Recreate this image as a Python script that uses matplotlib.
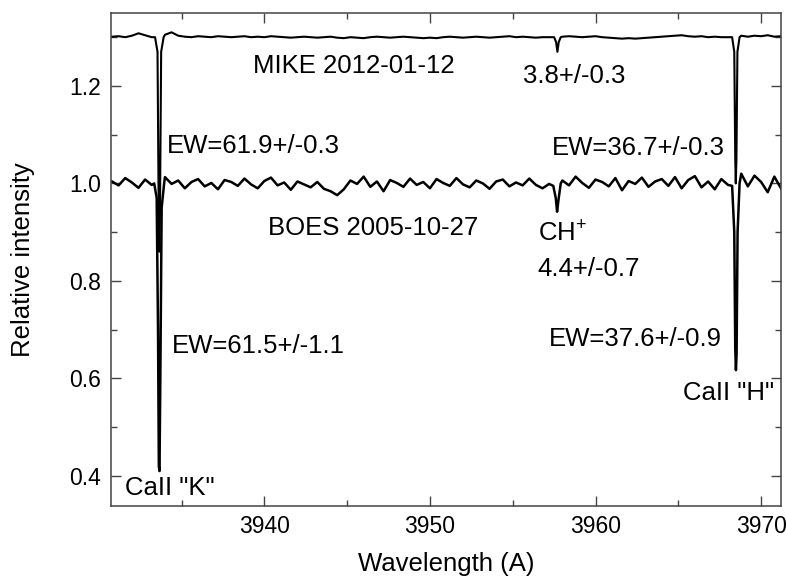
import numpy as np
import matplotlib.pyplot as plt
from matplotlib.ticker import MultipleLocator

plt.rcParams['font.family'] = ['Liberation Sans', 'DejaVu Sans']
plt.rcParams['mathtext.default'] = 'regular'

# BOES 2005-10-27 continuum, sampled every 0.4 A from 3930.8 A
boes_start = 3930.8
boes_step = 0.4
boes_cont = [1.004, 0.996, 1.011, 1.002, 0.991, 1.008, 0.997, 1.000, 1.013, 0.999,
             1.006, 0.990, 1.003, 1.009, 0.994, 1.001, 0.988, 1.007, 1.003, 0.995,
             1.010, 0.998, 0.990, 1.005, 1.012, 0.996, 1.002, 0.987, 1.004, 0.998,
             0.992, 1.003, 0.989, 0.984, 0.976, 0.988, 1.006, 0.999, 1.014, 0.993,
             1.004, 0.984, 1.007, 1.001, 0.993, 1.010, 0.997, 1.003, 0.990, 1.009,
             1.001, 0.995, 1.011, 0.998, 0.992, 1.006, 1.000, 0.989, 1.004, 1.008,
             0.994, 1.002, 0.996, 1.010, 0.997, 0.990, 0.999, 1.000, 1.006, 0.996,
             1.014, 1.001, 0.991, 1.008, 1.003, 0.994, 1.011, 0.986, 1.005, 0.999,
             1.012, 0.993, 1.004, 1.009, 0.995, 1.013, 0.990, 1.007, 1.015, 0.992,
             1.004, 0.988, 1.009, 0.997, 1.000, 1.020, 0.994, 1.016, 1.003, 0.982,
             1.014, 0.990]

# BOES absorption lines
boes_k_wl = [3933.35, 3933.5, 3933.58, 3933.63, 3933.67, 3933.72, 3933.8, 3933.95]
boes_k_fl = [1.0, 0.97, 0.70, 0.42, 0.41, 0.60, 0.95, 1.0]
boes_ch_wl = [3957.45, 3957.6, 3957.68, 3957.76, 3957.9]
boes_ch_fl = [0.995, 0.97, 0.942, 0.965, 1.0]
boes_h_wl = [3968.25, 3968.38, 3968.44, 3968.48, 3968.52, 3968.58, 3968.7]
boes_h_fl = [0.995, 0.90, 0.66, 0.617, 0.65, 0.90, 1.0]

# MIKE 2012-01-12 continuum (shifted by +0.3), same sampling
mike_cont = [1.301, 1.302, 1.300, 1.303, 1.308, 1.304, 1.300, 1.300, 1.305, 1.310,
             1.303, 1.301, 1.300, 1.302, 1.301, 1.300, 1.302, 1.301, 1.300, 1.301,
             1.302, 1.300, 1.301, 1.300, 1.302, 1.301, 1.300, 1.299, 1.300, 1.301,
             1.300, 1.299, 1.300, 1.301, 1.299, 1.298, 1.300, 1.299, 1.298, 1.300,
             1.301, 1.300, 1.299, 1.300, 1.301, 1.300, 1.299, 1.298, 1.299, 1.298,
             1.300, 1.301, 1.300, 1.299, 1.300, 1.301, 1.300, 1.299, 1.300, 1.301,
             1.302, 1.300, 1.301, 1.300, 1.299, 1.300, 1.300, 1.300, 1.301, 1.302,
             1.301, 1.300, 1.301, 1.302, 1.300, 1.299, 1.298, 1.297, 1.298, 1.297,
             1.298, 1.299, 1.300, 1.301, 1.302, 1.303, 1.304, 1.302, 1.301, 1.302,
             1.300, 1.301, 1.300, 1.300, 1.300, 1.303, 1.301, 1.303, 1.302, 1.304,
             1.301, 1.302]

mike_k_wl = [3933.4, 3933.55, 3933.62, 3933.66, 3933.70, 3933.77, 3933.92]
mike_k_fl = [1.30, 1.27, 0.95, 0.86, 0.95, 1.27, 1.30]
mike_ch_wl = [3957.5, 3957.62, 3957.7, 3957.78, 3957.9]
mike_ch_fl = [1.300, 1.29, 1.27, 1.29, 1.300]
mike_h_wl = [3968.25, 3968.38, 3968.44, 3968.47, 3968.51, 3968.57, 3968.7]
mike_h_fl = [1.30, 1.27, 1.05, 1.00, 1.05, 1.27, 1.30]


def build(cont, lines):
    wl = boes_start + boes_step * np.arange(len(cont))
    fl = np.array(cont)
    keep = np.ones(len(wl), bool)
    for lw, lf in lines:
        keep &= ~((wl >= lw[0]) & (wl <= lw[-1]))
    wl = list(wl[keep])
    fl = list(fl[keep])
    for lw, lf in lines:
        wl += lw
        fl += lf
    order = np.argsort(wl)
    return np.array(wl)[order], np.array(fl)[order]


bx, by = build(boes_cont, [(boes_k_wl, boes_k_fl), (boes_ch_wl, boes_ch_fl), (boes_h_wl, boes_h_fl)])
mx, my = build(mike_cont, [(mike_k_wl, mike_k_fl), (mike_ch_wl, mike_ch_fl), (mike_h_wl, mike_h_fl)])

fig = plt.figure(figsize=(7.86, 5.78), dpi=100)
ax = fig.add_axes([0.1412, 0.1251, 0.8524, 0.8519])

ax.plot(bx, by, color='black', lw=1.8)
ax.plot(mx, my, color='black', lw=1.5)

ax.set_xlim(3930.74, 3971.2)
ax.set_ylim(0.339, 1.349)

ax.xaxis.set_major_locator(MultipleLocator(10))
ax.xaxis.set_minor_locator(MultipleLocator(5))
ax.yaxis.set_major_locator(MultipleLocator(0.2))
ax.yaxis.set_minor_locator(MultipleLocator(0.1))
ax.tick_params(which='both', direction='in', top=True, right=True, color='#444444', width=1)
ax.tick_params(which='major', length=7, labelsize=16.5, pad=7)
ax.tick_params(which='minor', length=4)
ax.yaxis.set_major_formatter(plt.FormatStrFormatter('%.1f'))
for s in ax.spines.values():
    s.set_color('#444444')
    s.set_linewidth(1.1)

ax.set_xlabel('Wavelength (A)', fontsize=18.5)
ax.set_ylabel('Relative intensity', fontsize=18.5)
ax.xaxis.set_label_coords(0.5, -0.094)
ax.yaxis.set_label_coords(-0.113, 0.5)

fs = 18.5
ax.text(3939.32, 1.2267, 'MIKE 2012-01-12', fontsize=fs)
ax.text(3955.62, 1.2062, '3.8+/-0.3', fontsize=fs)
ax.text(3934.12, 1.0626, 'EW=61.9+/-0.3', fontsize=fs)
ax.text(3957.37, 1.0585, 'EW=36.7+/-0.3', fontsize=fs)
ax.text(3940.23, 0.8944, 'BOES 2005-10-27', fontsize=fs)
ax.text(3956.54, 0.8806, 'CH$^{+}$', fontsize=fs)
ax.text(3956.48, 0.810, '4.4+/-0.7', fontsize=fs)
ax.text(3934.40, 0.6523, 'EW=61.5+/-1.1', fontsize=fs)
ax.text(3957.20, 0.6667, 'EW=37.6+/-0.9', fontsize=fs)
ax.text(3965.30, 0.556, 'CaII "H"', fontsize=fs)
ax.text(3931.59, 0.361, 'CaII "K"', fontsize=fs)

fig.savefig('out.png', dpi=100)
